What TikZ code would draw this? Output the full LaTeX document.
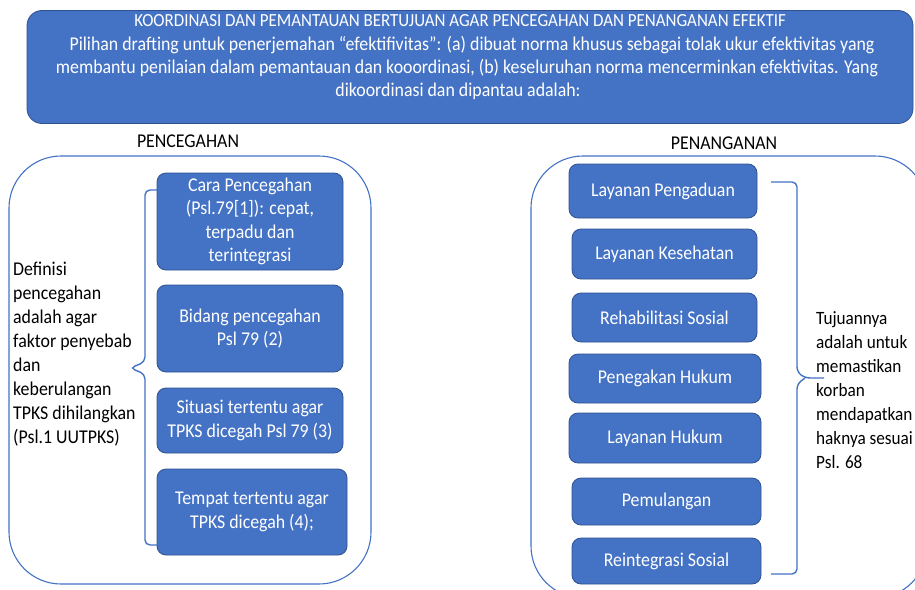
\documentclass[tikz,border=0pt]{standalone}
\usepackage{fontspec}
\setmainfont{Carlito}[FakeStretch=0.915]
\definecolor{offblue}{HTML}{4472C4}
\definecolor{offdark}{HTML}{2F528F}
\tikzset{
  bluebox/.style={draw=offdark, line width=0.8pt, fill=offblue, rounded corners=9pt,
    text=white, align=center, inner sep=0pt, font=\fontsize{19.5}{23.5}\selectfont},
  outerbox/.style={draw=offblue, line width=1.1pt, rounded corners=52pt},
  bracepath/.style={draw=offblue, line width=1.4pt, rounded corners=5pt},
  lbl/.style={inner sep=0pt, text=black, font=\fontsize{19.5}{24}\selectfont},
  toptxt/.style={inner sep=0pt, text=white, anchor=base, font=\fontsize{19.5}{23}\selectfont},
}
\begin{document}
\begin{tikzpicture}[x=1pt,y=-1pt]
\useasboundingbox (0,0) rectangle (915,589);
% top box
\node[draw=offdark, line width=0.8pt, fill=offblue, rounded corners=15pt,
  minimum width=886pt, minimum height=113pt, inner sep=0pt] (top) at (470,67) {};
\node[toptxt, font=\fontsize{18.5}{23}\selectfont] (t1) at (460,27) {KOORDINASI DAN PEMANTAUAN BERTUJUAN AGAR PENCEGAHAN DAN PENANGANAN EFEKTIF};
\node[toptxt] (t2) at (472,50) {Pilihan drafting untuk penerjemahan “efektifivitas”: (a) dibuat norma khusus sebagai tolak ukur efektivitas yang};
\node[toptxt] (t3) at (467,73) {membantu penilaian dalam pemantauan dan kooordinasi, (b) keseluruhan norma mencerminkan efektivitas. Yang};
\node[toptxt] (t4) at (458,96) {dikoordinasi dan dipantau adalah:};

% section labels
\node[lbl] (lp) at (188,141) {PENCEGAHAN};
\node[lbl] (lr) at (724,143) {PENANGANAN};

% outer boxes
\draw[outerbox] (9,156) rectangle (371,584);
\begin{scope}
\clip (0,0) rectangle (915,589);
\draw[outerbox] (531,156) rectangle (927,598);
\end{scope}

% left boxes
\node[bluebox, minimum width=186pt, minimum height=97pt] (c1) at (250,221.5) {Cara Pencegahan\\(Psl.79[1]): cepat,\\terpadu dan\\terintegrasi};
\node[bluebox, minimum width=186pt, minimum height=87pt] (c2) at (250,328.5) {Bidang pencegahan\\Psl 79 (2)};
\node[bluebox, minimum width=186pt, minimum height=65pt] (c3) at (250,420.5) {Situasi tertentu agar\\TPKS dicegah Psl 79 (3)};
\node[bluebox, minimum width=190pt, minimum height=86pt] (c4) at (252,512) {Tempat tertentu agar\\TPKS dicegah (4);};

% right boxes
\node[bluebox, minimum width=188pt, minimum height=54pt] (r1) at (663,191) {Layanan Pengaduan};
\node[bluebox, minimum width=185pt, minimum height=50pt] (r2) at (664.5,254) {Layanan Kesehatan};
\node[bluebox, minimum width=185pt, minimum height=49pt] (r3) at (664.5,317.5) {Rehabilitasi Sosial};
\node[bluebox, minimum width=192pt, minimum height=49pt] (r4) at (665,378.5) {Penegakan Hukum};
\node[bluebox, minimum width=192pt, minimum height=50pt] (r5) at (665,438) {Layanan Hukum};
\node[bluebox, minimum width=189pt, minimum height=47pt] (r6) at (666.5,501.5) {Pemulangan};
\node[bluebox, minimum width=189pt, minimum height=46pt] (r7) at (666.5,561) {Reintegrasi Sosial};

% side texts
\node[lbl, anchor=north west, align=left] (dl) at (13,262) {Definisi\\pencegahan\\adalah agar\\faktor penyebab\\dan\\keberulangan\\TPKS dihilangkan\\(Psl.1 UUTPKS)};
\node[lbl, anchor=north west, align=left, font=\fontsize{18.8}{24}\selectfont] (dr) at (816,311) {Tujuannya\\adalah untuk\\memastikan\\korban\\mendapatkan\\haknya sesuai\\Psl. 68};

% left brace
\coordinate (lbt) at (157,190);
\coordinate (lbm) at (130,368);
\coordinate (lbb) at (157,545);
\draw[bracepath] (lbt) -- (145,190) -- (145,362) -- (lbm) -- (145,374) -- (145,545) -- (lbb);
% right brace
\coordinate (rbt) at (771,182);
\coordinate (rbm) at (824,378);
\coordinate (rbb) at (771,574);
\draw[bracepath] (rbt) -- (797,182) -- (797,372) -- (805,378) -- (rbm);
\draw[bracepath] (805,378) -- (797,384) -- (797,574) -- (rbb);
\end{tikzpicture}
\end{document}
